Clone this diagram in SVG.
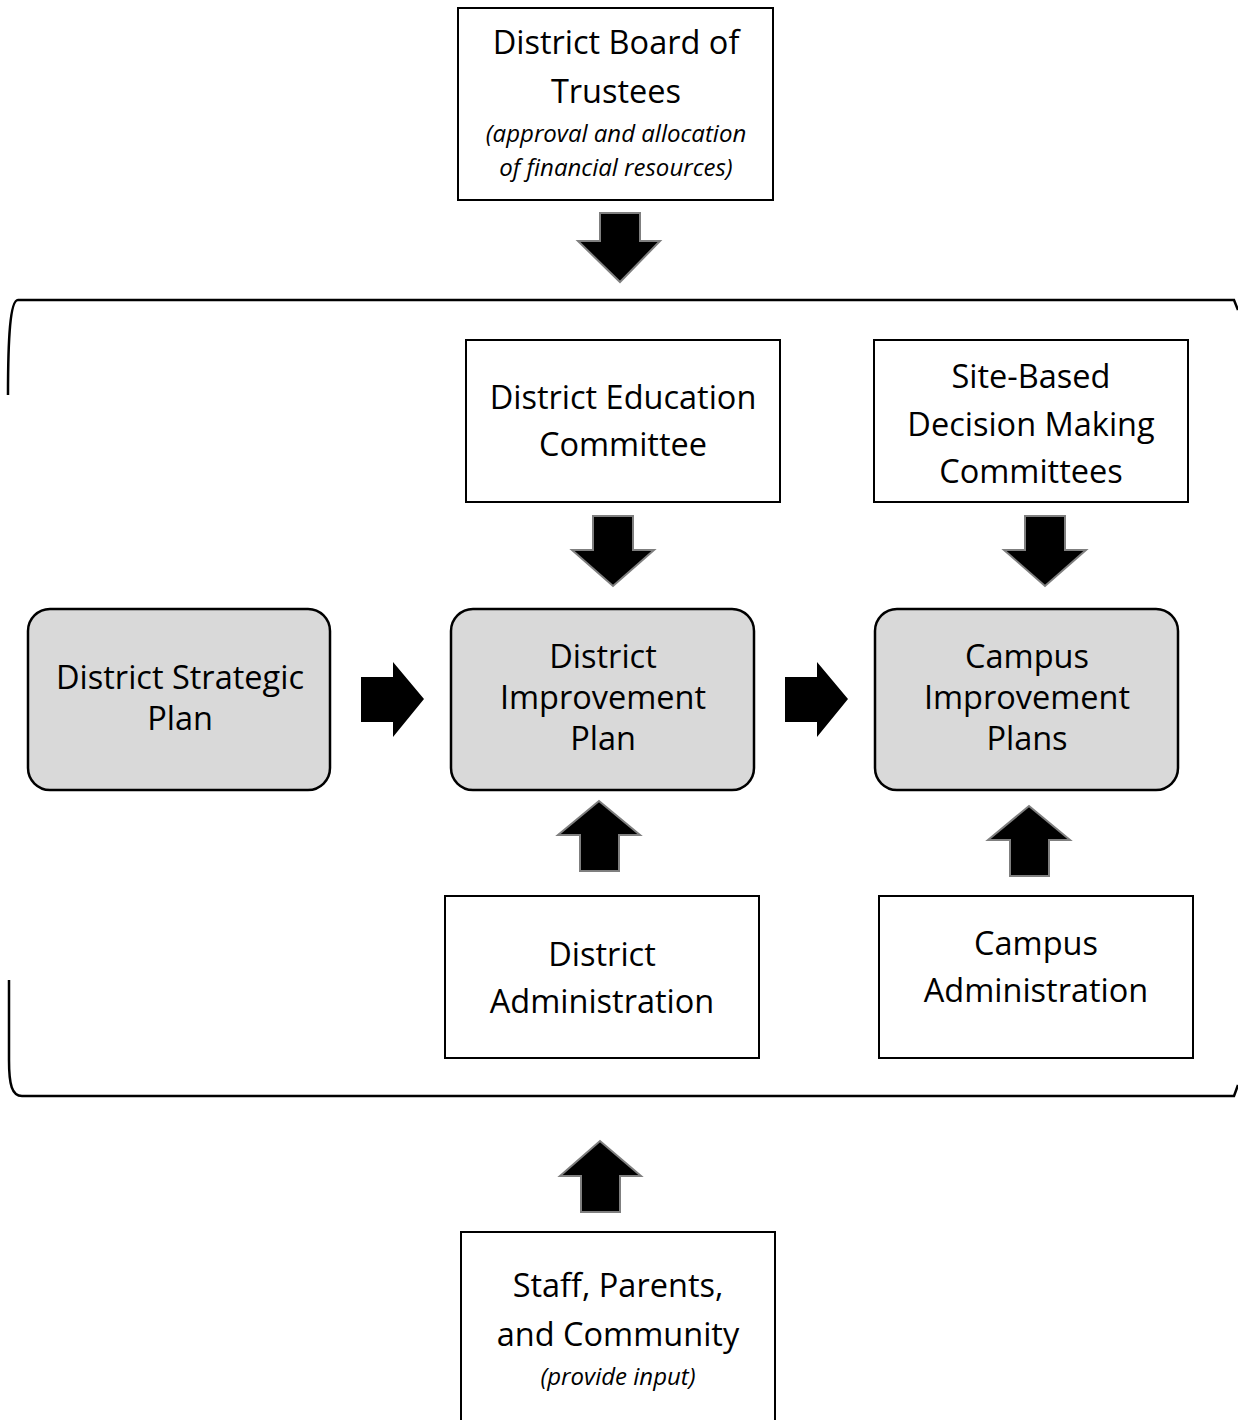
<svg xmlns="http://www.w3.org/2000/svg" width="1238" height="1420" viewBox="0 0 1238 1420">
<style>
.box{fill:#fff;stroke:#000;stroke-width:2}
.rbox{fill:#d9d9d9;stroke:#000;stroke-width:2.5}
.t{font-family:"Open Sans","Liberation Sans",sans-serif;font-size:32.5px;fill:#000;text-anchor:middle}
.i{font-family:"Open Sans","Liberation Sans",sans-serif;font-size:24px;font-style:italic;fill:#000;text-anchor:middle}
.av{fill:#000;stroke:#7f7f7f;stroke-width:2;stroke-linejoin:miter}
.ah{fill:#000}
.br{fill:none;stroke:#000;stroke-width:2.5}
</style>
<rect width="1238" height="1420" fill="#fff"/>
<g id="bracket">
<path class="br" d="M8,395 C8,340 10,300 18,300 L1234,300 L1238,310"/>
<path class="br" d="M9,980 L9,1060 C9,1085 12,1096 22,1096 L1234,1096 L1238,1085"/>
</g>
<g id="board">
<rect class="box" x="458" y="8" width="315" height="192"/>
<text class="t" x="616" y="54">District Board of</text>
<text class="t" x="616" y="103">Trustees</text>
<text class="i" x="616" y="142">(approval and allocation</text>
<text class="i" x="616" y="176">of financial resources)</text>
</g>
<g id="dec">
<rect class="box" x="466" y="340" width="314" height="162"/>
<text class="t" x="623" y="409">District Education</text>
<text class="t" x="623" y="456">Committee</text>
</g>
<g id="sbdm">
<rect class="box" x="874" y="340" width="314" height="162"/>
<text class="t" x="1031" y="388">Site-Based</text>
<text class="t" x="1031" y="436">Decision Making</text>
<text class="t" x="1031" y="483">Committees</text>
</g>
<g id="dsp">
<rect class="rbox" x="28" y="609" width="302" height="181" rx="22"/>
<text class="t" x="180" y="689">District Strategic</text>
<text class="t" x="180" y="730">Plan</text>
</g>
<g id="dip">
<rect class="rbox" x="451" y="609" width="303" height="181" rx="22"/>
<text class="t" x="603" y="668">District</text>
<text class="t" x="603" y="709">Improvement</text>
<text class="t" x="603" y="750">Plan</text>
</g>
<g id="cip">
<rect class="rbox" x="875" y="609" width="303" height="181" rx="22"/>
<text class="t" x="1027" y="668">Campus</text>
<text class="t" x="1027" y="709">Improvement</text>
<text class="t" x="1027" y="750">Plans</text>
</g>
<g id="dadmin">
<rect class="box" x="445" y="896" width="314" height="162"/>
<text class="t" x="602" y="966">District</text>
<text class="t" x="602" y="1013">Administration</text>
</g>
<g id="cadmin">
<rect class="box" x="879" y="896" width="314" height="162"/>
<text class="t" x="1036" y="955">Campus</text>
<text class="t" x="1036" y="1002">Administration</text>
</g>
<g id="spc">
<rect class="box" x="461" y="1232" width="314" height="195"/>
<text class="t" x="618" y="1297">Staff, Parents,</text>
<text class="t" x="618" y="1346">and Community</text>
<text class="i" x="618" y="1385">(provide input)</text>
</g>
<g id="connectors">
<path class="av" d="M600,213 L640,213 L640,241 L660,241 L620,282 L578,241 L600,241 Z"/>
<path class="av" d="M593,516 L633,516 L633,550 L654,550 L613,586 L572,550 L593,550 Z"/>
<path class="av" d="M1025,516 L1065,516 L1065,550 L1086,550 L1045,586 L1004,550 L1025,550 Z"/>
<path class="ah" d="M361,677 L393,677 L393,662 L424,699 L393,737 L393,722 L361,722 Z"/>
<path class="ah" d="M785,677 L817,677 L817,662 L848,699 L817,737 L817,722 L785,722 Z"/>
<path class="av" d="M580,871 L619,871 L619,835 L640,835 L599,801 L558,835 L580,835 Z"/>
<path class="av" d="M1010,876 L1049,876 L1049,840 L1070,840 L1029,806 L988,840 L1010,840 Z"/>
<path class="av" d="M581,1212 L620,1212 L620,1176 L641,1176 L600,1141 L560,1176 L581,1176 Z"/>
</g>
</svg>
